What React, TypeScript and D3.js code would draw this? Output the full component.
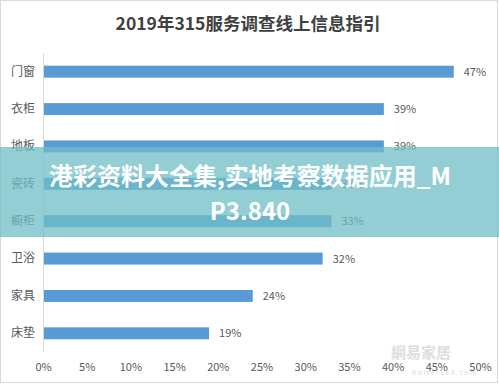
import { useRef, useEffect } from 'react';
import * as d3 from 'd3';

// 数据
const categories = ['门窗', '衣柜', '地板', '瓷砖', '橱柜', '卫浴', '家具', '床垫'];
const values = [47, 39, 39, 33, 33, 32, 24, 19];
const ticks = [0, 5, 10, 15, 20, 25, 30, 35, 40, 45, 50];
const title = '2019年315服务调查线上信息指引';
const bannerLines = ['港彩资料大全集,实地考察数据应用_M', 'P3.840'];

const W = 499;
const H = 385;
const font = '"Noto Sans CJK SC", "Noto Sans", sans-serif';

const App = () => {
  const ref = useRef<SVGSVGElement>(null);

  useEffect(() => {
    const svg = d3.select(ref.current);
    svg.selectAll('*').remove();

    svg.append('rect')
      .attr('x', 0.5).attr('y', 0.5)
      .attr('width', W - 2).attr('height', H - 3)
      .attr('fill', '#fff')
      .attr('stroke', '#d9d9d9');

    svg.append('text')
      .attr('x', 248).attr('y', 30)
      .attr('text-anchor', 'middle')
      .attr('font-family', font)
      .attr('font-size', 17.5)
      .attr('font-weight', 'bold')
      .attr('fill', '#404040')
      .text(title);

    const x = d3.scaleLinear().domain([0, 50]).range([43, 480]);
    const y = d3.scaleBand().domain(categories).range([53, 352]).paddingInner(0.68).paddingOuter(0.34);

    // 柱子
    svg.append('g').selectAll('rect')
      .data(values)
      .join('rect')
      .attr('x', x(0))
      .attr('y', (d, i) => y(categories[i])!)
      .attr('width', d => x(d) - x(0))
      .attr('height', y.bandwidth())
      .attr('fill', '#5b9bd5');

    svg.append('g').selectAll('text')
      .data(values)
      .join('text')
      .attr('x', d => x(d) + 10)
      .attr('y', (d, i) => y(categories[i])! + y.bandwidth() / 2 + 4)
      .attr('font-family', font)
      .attr('font-size', 11)
      .attr('fill', '#595959')
      .text(d => d + '%');

    // 纵轴
    const yAxis = svg.append('g')
      .attr('transform', `translate(${x(0)},0)`)
      .call(d3.axisLeft(y).tickSize(0).tickPadding(8));
    yAxis.select('.domain').attr('stroke', '#d9d9d9');
    yAxis.selectAll('text')
      .attr('font-family', font)
      .attr('font-size', 12)
      .attr('fill', '#595959');

    // 横轴标签
    const xAxis = svg.append('g')
      .attr('transform', 'translate(0,358)')
      .call(d3.axisBottom(x).tickValues(ticks).tickSize(0).tickPadding(5).tickFormat(d => d + '%'));
    xAxis.select('.domain').remove();
    xAxis.selectAll('text')
      .attr('font-family', font)
      .attr('font-size', 11)
      .attr('fill', '#595959');

    // 水印
    svg.append('text')
      .attr('x', 451).attr('y', 358)
      .attr('text-anchor', 'end')
      .attr('font-family', font)
      .attr('font-size', 15)
      .attr('font-weight', 'bold')
      .attr('fill', '#d6d6d6')
      .attr('opacity', 0.8)
      .text('網易家居');
    svg.append('text')
      .attr('x', 445).attr('y', 375)
      .attr('text-anchor', 'middle')
      .attr('font-family', font)
      .attr('font-size', 6)
      .attr('letter-spacing', 2)
      .attr('fill', '#d6d6d6')
      .text('home.163.com');

    // 横幅
    svg.append('rect')
      .attr('x', 0).attr('y', 147)
      .attr('width', W).attr('height', 90)
      .attr('fill', 'rgb(110,190,198)')
      .attr('opacity', 0.75);

    svg.append('g').selectAll('text')
      .data(bannerLines)
      .join('text')
      .attr('x', 250)
      .attr('y', (d, i) => 185 + i * 35)
      .attr('text-anchor', 'middle')
      .attr('font-family', font)
      .attr('font-size', 24)
      .attr('font-weight', 'bold')
      .attr('fill', '#fff')
      .text(d => d);
  }, []);

  return (
    <svg ref={ref} width={W} height={H} style={{ display: 'block', position: 'absolute', left: 0, top: 0 }} />
  );
};

export default App;
